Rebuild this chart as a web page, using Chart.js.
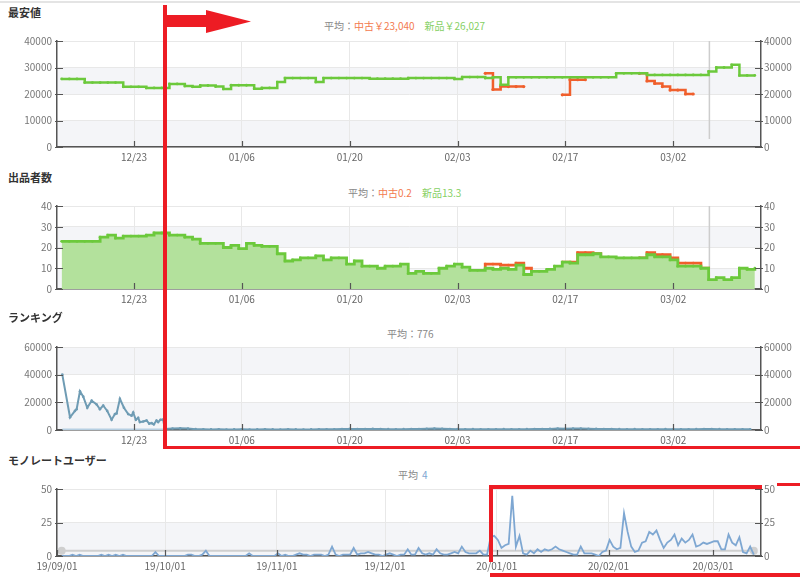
<!DOCTYPE html>
<html>
<head>
<meta charset="utf-8">
<title>monorate</title>
<script src="https://cdn.jsdelivr.net/npm/chart.js@4.4.1/dist/chart.umd.min.js"></script>
<style>
  body { margin: 0; background: #fff; font-family: "Noto Sans CJK JP", sans-serif; }
  #page { position: relative; width: 800px; height: 581px; overflow: hidden; }
  canvas { position: absolute; left: 0; }
  .title { position: absolute; left: 8px; font-size: 11px; line-height: 16px; font-weight: bold; color: #333; }
  .sub { position: absolute; font-size: 10px; line-height: 14px; color: #888; white-space: nowrap; }
  .used { color: #f37a4e; }
  .new { color: #86d064; margin-left: 10px; }
  .blue { color: #7ea7d2; margin-left: 4px; }
  .red { position: absolute; background: #ed1c24; }
</style>
</head>
<body>
<div id="page">
  <div style="position:absolute;left:0;top:1px;width:800px;height:2px;background:#e4e4e4"></div>

  <div class="title" style="top:4px">最安値</div>
  <div class="sub" style="left:324px;top:19px">平均：<span class="used">中古￥23,040</span><span class="new">新品￥26,027</span></div>
  <canvas id="c1" width="800" height="139" style="top:30px"></canvas>

  <div class="title" style="top:169px">出品者数</div>
  <div class="sub" style="left:348px;top:186px">平均：<span class="used">中古0.2</span><span class="new">新品13.3</span></div>
  <canvas id="c2" width="800" height="116" style="top:195px"></canvas>

  <div class="title" style="top:309px">ランキング</div>
  <div class="sub" style="left:387px;top:327px">平均：776</div>
  <canvas id="c3" width="800" height="116" style="top:336px"></canvas>

  <div class="title" style="top:452px">モノレートユーザー</div>
  <div class="sub" style="left:398px;top:468px">平均<span class="blue">4</span></div>
  <canvas id="c4" width="800" height="100" style="top:478px"></canvas>

  <!-- red marks drawn over the screenshot -->
  <div class="red" style="left:163px;top:5px;width:3.5px;height:444px"></div>
  <div class="red" style="left:165px;top:15px;width:43px;height:12px"></div>
  <div class="red" style="left:206px;top:10px;width:45px;height:23px;clip-path:polygon(0 0,100% 50%,0 100%)"></div>
  <div class="red" style="left:163px;top:445.5px;width:637px;height:3.5px"></div>
  <div class="red" style="left:489px;top:485px;width:3.5px;height:77px"></div>
  <div class="red" style="left:489px;top:485px;width:273px;height:3.5px"></div>
  <div class="red" style="left:777px;top:482.5px;width:23px;height:3px"></div>
  <div class="red" style="left:490px;top:573px;width:310px;height:3.5px"></div>
</div>

<script>
const FONT = '"Noto Sans CJK JP", sans-serif';
Chart.defaults.font.family = FONT;

// x values are day numbers counted from 2019-09-01
const shortTickDays = [113, 127, 141, 155, 169, 183];
const shortTickLabels = ['12/23', '01/06', '01/20', '02/03', '02/17', '03/02'];
const longTickDays = [0, 30, 61, 91, 122, 153, 182];
const longTickLabels = ['19/09/01', '19/10/01', '19/11/01', '19/12/01', '20/01/01', '20/02/01', '20/03/01'];

// daily samples starting 12/13
const priceStart = 103.6;
const newPrice = [
  25700, 25700, 25700, 24300, 24300, 24300, 24300, 24300, 22700, 22700,
  22700, 22300, 22300, 22300, 23800, 23800, 23000, 22700, 23200, 23200,
  22800, 21900, 23300, 23300, 23300, 22000, 22300, 22300, 24500, 26000,
  26000, 26000, 26000, 24500, 26000, 26000, 26000, 26000, 26000, 26000,
  25800, 25800, 25800, 25800, 25800, 26000, 26000, 26000, 26000, 26000,
  26000, 25700, 26400, 26400, 26400, 26000, 26300, 23500, 26300, 26300,
  26300, 26300, 26300, 26300, 26300, 26300, 26300, 26300, 26300, 26300,
  26300, 26300, 27800, 27800, 27800, 27800, 27200, 27200, 27200, 27200,
  27200, 27200, 27200, 27200, 28500, 30000, 30000, 31000, 27000, 27000,
  27000
];
const usedPrice = [
  null, null, null, null, null, null, null, null, null, null,
  null, null, null, null, null, null, null, null, null, null,
  null, null, null, null, null, null, null, null, null, null,
  null, null, null, null, null, null, null, null, null, null,
  null, null, null, null, null, null, null, null, null, null,
  null, null, null, null, null, 27800, 21700, 22800, 22800, 22800,
  22800, null, null, null, null, 19700, 25400, 25400, 25400, null,
  null, null, null, null, null, 27800, 24900, 24000, 22800, 21500,
  21500, 20000, 20000, null, null, null, null, null, null, null,
  null
];

const newSellers = [
  23, 23, 23, 23, 23, 25, 26, 24.5, 25.5, 25.5,
  25.5, 26, 27, 27, 26, 26, 25, 24, 22, 22,
  22, 20, 21, 19.5, 22, 21, 20.5, 20.5, 17, 13.5,
  14, 15, 15, 16, 14, 15, 15, 12, 13.5, 11,
  11, 10, 11, 11, 12, 7.5, 8.5, 7.5, 7.5, 10,
  11, 12, 10.5, 9, 9, 10, 9.5, 10, 9.5, 11.5,
  7, 8.5, 8.5, 9.5, 11, 13, 12.5, 16.5, 16.5, 17,
  15.5, 15.5, 15, 15, 15, 15, 16.5, 15.5, 15.5, 14,
  11, 11, 11, 10, 4.5, 5.5, 4.5, 5.5, 10, 9.5,
  10
];
const allSellers = [
  null, null, null, null, null, null, null, null, null, null,
  null, null, null, null, null, null, null, null, null, null,
  null, null, null, null, null, null, null, null, null, null,
  null, null, null, null, null, null, null, null, null, null,
  null, null, null, null, null, null, null, null, null, null,
  null, null, null, null, 9, 12, 12, 11.5, 11.5, 12.5,
  10, 8.5, null, null, null, 13, 13, 17.5, 17.5, 17,
  15.5, null, null, null, null, 15, 17.5, 16.5, 16.5, 15,
  12.5, 12.5, 12.5, 10, 4.5, null, null, null, null, null,
  null
];

const rankEarlyDays = [
  103.69, 104.69, 105.33, 105.55, 105.98, 106.41, 106.93, 107.5, 108.15, 108.57,
  109.0, 109.52, 110.09, 110.52, 110.74, 111.17, 111.69, 112.24, 112.68, 112.89,
  113.24, 113.54, 113.76, 114.19, 114.63, 114.97, 115.28, 115.57, 115.92, 116.13,
  116.44, 116.78, 117.0
];
const rankEarlyVals = [
  40000, 9200, 13800, 15000, 28000, 24100, 16100, 21200, 18400, 15000,
  17700, 13800, 7400, 11500, 12000, 22500, 16100, 11500, 10300, 12600,
  7400, 8800, 5700, 6100, 6900, 4600, 5000, 4100, 6900, 5700,
  7400, 7600, 800
];
const rankLateStart = 118;
const rankLateVals = [
  1100, 1200, 1000, 600, 500, 450, 500, 400, 450, 500,
  400, 450, 500, 450, 400, 500, 450, 400, 450, 500,
  500, 550, 700, 800, 650, 700, 800, 650, 600, 550,
  600, 650, 700, 900, 1000, 850, 700, 600, 550, 600,
  550, 500, 550, 600, 500, 550, 600, 650, 700, 800,
  1000, 900, 1000, 1100, 900, 800, 700, 650, 600, 550,
  600, 550, 500, 550, 600, 550, 500, 550, 600, 650,
  700, 600, 550, 500, 550, 500
];
const rankBaseDays = [103.7, 117];
const rankBaseVals = [300, 300];

// daily samples starting 09/02
const userStart = 1.3;
const users = [
  0, 0, 0, 1, 0, 1, 0, 0, 0, 0,
  0, 1, 0, 1, 0, 1, 0, 1, 0, 0,
  0, 0, 0, 0, 0, 0, 3, 0, 0, 0,
  0, 0, 0, 0, 0, 1, 1, 0, 0, 1,
  4, 0, 0, 0, 0, 0, 0, 0, 0, 0,
  0, 0, 2, 0, 0, 0, 0, 0, 0, 0,
  2, 0, 1, 0, 0, 1, 2, 1, 1, 0,
  1, 1, 1, 0, 1, 7, 1, 0, 1, 1,
  1, 6, 1, 2, 2, 3, 2, 1, 1, 0,
  1, 2, 1, 0, 1, 1, 5, 1, 1, 6,
  2, 1, 2, 1, 5, 2, 1, 1, 2, 3,
  2, 7, 3, 2, 2, 2, 4, 1, 1, 14,
  15, 12, 6, 8, 9, 45, 7, 15, 2, 1,
  4, 2, 5, 3, 5, 4, 5, 7, 5, 4,
  3, 2, 1, 1, 7, 2, 2, 2, 1, 0,
  3, 4, 12, 7, 5, 6, 32, 18, 7, 3,
  4, 10, 11, 18, 16, 19, 12, 6, 10, 12,
  16, 8, 13, 10, 12, 16, 7, 8, 10, 9,
  10, 11, 11, 5, 5, 16, 10, 8, 14, 3,
  2, 7, 1
];
const userAvg = 4;
const markerDay = 187.7;

const series = (start, vals) => vals.map((v, i) => ({ x: start + i, y: v }));
const pairs = (days, vals) => days.map((d, i) => ({ x: d, y: vals[i] }));

// shaded bands, "now" marker and the short inner tick marks
const decor = {
  id: 'decor',
  beforeDraw(chart) {
    const { ctx, chartArea: a, scales: { y } } = chart;
    ctx.save();
    ctx.fillStyle = '#f4f5f8';
    for (let i = 0; i + 1 < y.ticks.length; i += 2) {
      const top = y.getPixelForValue(y.ticks[i + 1].value);
      const bot = y.getPixelForValue(y.ticks[i].value);
      ctx.fillRect(a.left, top, a.right - a.left, bot - top);
    }
    ctx.restore();
  },
  beforeDatasetsDraw(chart, args, opts) {
    if (opts.marker == null) return;
    const { ctx, chartArea: a, scales: { x } } = chart;
    const px = x.getPixelForValue(opts.marker);
    ctx.save();
    ctx.strokeStyle = '#cdcdcd';
    ctx.lineWidth = 1.5;
    ctx.beginPath();
    ctx.moveTo(px, a.top);
    ctx.lineTo(px, a.bottom - (opts.gap || 0));
    ctx.stroke();
    ctx.restore();
  },
  afterDraw(chart) {
    const { ctx, chartArea: a, scales: { x, y } } = chart;
    ctx.save();
    ctx.strokeStyle = '#555';
    ctx.lineWidth = 1.2;
    ctx.beginPath();
    x.ticks.forEach(t => {
      const px = Math.round(x.getPixelForValue(t.value)) + 0.5;
      ctx.moveTo(px, a.bottom);
      ctx.lineTo(px, a.bottom - 6);
    });
    y.ticks.forEach(t => {
      const py = Math.round(y.getPixelForValue(t.value)) + 0.5;
      ctx.moveTo(a.left - 2, py);
      ctx.lineTo(a.left + 6, py);
      ctx.moveTo(a.right + 2, py);
      ctx.lineTo(a.right - 6, py);
    });
    ctx.stroke();
    ctx.restore();
  }
};

function xAxis(min, max, tickDays, tickLabels) {
  return {
    type: 'linear', min, max,
    afterBuildTicks: s => { s.ticks = tickDays.map(v => ({ value: v })); },
    afterFit: s => { s.height = 22; },
    grid: { color: '#e8e8e8', drawTicks: false },
    border: { color: '#555', width: 1.5 },
    ticks: {
      padding: 4, color: '#666', font: { size: 10 }, maxRotation: 0, autoSkip: false,
      callback: (v, i) => tickLabels[i]
    }
  };
}

function yAxis(pos, max, step) {
  return {
    type: 'linear', position: pos, min: 0, max, display: true,
    afterFit: s => { s.width = pos === 'left' ? 57 : 39; },
    grid: { display: pos === 'left', color: '#e8e8e8', drawTicks: false },
    border: { color: '#555', width: 1.5 },
    ticks: {
      stepSize: step, padding: pos === 'left' ? 5 : 3, color: '#777', font: { size: 10 },
      callback: v => String(v)
    }
  };
}

function makeChart(id, datasets, xOpts, yMax, yStep, decorOpts) {
  return new Chart(document.getElementById(id), {
    type: 'line',
    data: { datasets },
    plugins: [decor],
    options: {
      responsive: false, animation: false, events: [],
      layout: { padding: { top: 7 } },
      plugins: { legend: { display: false }, tooltip: { enabled: false }, decor: decorOpts || {} },
      scales: {
        x: xOpts,
        y: yAxis('left', yMax, yStep),
        y2: yAxis('right', yMax, yStep)
      }
    }
  });
}

const GREEN = '#6cc93c';
const ORANGE = '#f05f2c';

makeChart('c1', [
  { data: series(priceStart, newPrice), borderColor: GREEN, backgroundColor: GREEN, borderWidth: 2.5,
    pointRadius: 1.4, pointBorderWidth: 0, stepped: true, spanGaps: false },
  { data: series(priceStart, usedPrice), borderColor: ORANGE, backgroundColor: ORANGE, borderWidth: 2.5,
    pointRadius: 1.6, pointBorderWidth: 0, stepped: true, spanGaps: false }
], xAxis(103, 194.4, shortTickDays, shortTickLabels), 40000, 10000, { marker: markerDay, gap: 8 });

makeChart('c2', [
  { data: series(priceStart, newSellers), borderColor: GREEN, backgroundColor: '#b3e19c', fill: 'origin',
    borderWidth: 2.8, pointRadius: 1.4, pointBackgroundColor: GREEN, pointBorderWidth: 0, stepped: true },
  { data: series(priceStart, allSellers), borderColor: ORANGE, backgroundColor: ORANGE, borderWidth: 2.8,
    pointRadius: 1.4, pointBorderWidth: 0, stepped: true, spanGaps: false }
], xAxis(103, 194.4, shortTickDays, shortTickLabels), 40, 10, { marker: markerDay });

makeChart('c3', [
  { data: pairs(rankEarlyDays, rankEarlyVals).concat(series(rankLateStart, rankLateVals)),
    borderColor: '#6f9cb4', backgroundColor: '#6f9cb4', borderWidth: 2, pointRadius: 1.3, pointBorderWidth: 0 },
  { data: pairs(rankBaseDays, rankBaseVals), borderColor: '#b6cfe2', borderWidth: 2, pointRadius: 0 }
], xAxis(103, 194.4, shortTickDays, shortTickLabels), 60000, 20000);

makeChart('c4', [
  { data: series(userStart, users), borderColor: '#7ea7d2', borderWidth: 1.8, pointRadius: 0 },
  { data: pairs([userStart, userStart + users.length - 1], [userAvg, userAvg]),
    borderColor: '#cfcfcf', backgroundColor: '#cfcfcf', borderWidth: 2, pointRadius: 4, pointBorderWidth: 0 }
], xAxis(0, 195.3, longTickDays, longTickLabels), 50, 25);
</script>
</body>
</html>
